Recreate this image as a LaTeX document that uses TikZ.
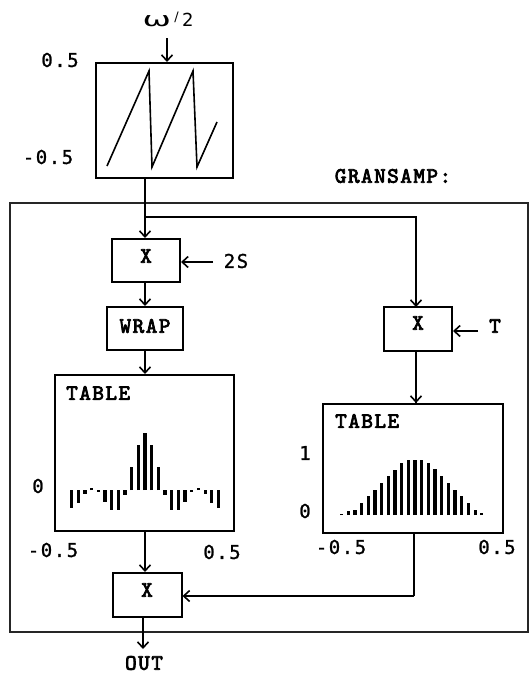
\documentclass[tikz,border=0pt]{standalone}
\usepackage{fontspec}
\newfontfamily\numfont{DejaVu Sans Mono}[FakeBold=1.2, LetterSpace=8]
\newfontfamily\symfont{DejaVu Sans}
\newfontfamily\lbfont{lmmono10-regular.otf}[FakeBold=3.5, LetterSpace=7]
\usetikzlibrary{arrows.meta}
\begin{document}
\begin{tikzpicture}[x=1pt,y=-1pt,
  box/.style={draw, line width=2pt, inner sep=0pt, anchor=center},
  lbl/.style={font=\fontsize{22}{22}\selectfont\lbfont, inner sep=0pt},
  num/.style={font=\fontsize{19}{19}\selectfont\numfont, inner sep=0pt},
  arr/.style={line width=1.6pt, -{Straight Barb[length=6pt,width=11pt,line width=1.6pt]}},
  wire/.style={line width=1.6pt},
  bar/.style={line width=3.2pt}]
\useasboundingbox (0,0) rectangle (530,675);

% outer frame
\draw[line width=1.5pt, draw=black!85] (10,203) rectangle (528,632);
\node[lbl] (gran) at (393,176) {GRANSAMP:};

% sawtooth oscillator
\node[box, minimum width=137pt, minimum height=115pt] (saw) at (164.5,120.5) {};
\draw[line width=1.6pt, line join=miter] (107,166) -- (149,71) -- (152,167) -- (193,71) -- (197,167) -- (217,122);
\node[inner sep=0pt, font=\symfont\fontsize{20}{20}\selectfont] (w) at (168,19) {\scalebox{1.7}[1]{ω}\,\raisebox{5pt}{\fontsize{13}{13}\selectfont/}\,\fontsize{18}{18}\selectfont 2};
\node[num] (p5) at (60,60) {0.5};
\node[num] (m5) at (48,157) {-0.5};
\coordinate (win) at (167,38);
\draw[arr] (win) -- (saw.north -| win);

% left column
\node[box, minimum width=68pt, minimum height=43pt] (lx) at (146,260.5) {};
\node[lbl] at (146,256) {X};
\node[box, minimum width=76pt, minimum height=43pt] (wrap) at (145,328.5) {};
\node[lbl] at (145,326) {WRAP};
\node[box, minimum width=179pt, minimum height=156pt] (lt) at (144,453) {};
\node[lbl, anchor=west] at (66,393) {TABLE};
\node[box, minimum width=69pt, minimum height=44pt] (bx) at (147,595) {};
\node[lbl] at (147,590) {X};

% right column
\node[box, minimum width=68pt, minimum height=44pt] (rx) at (418,329) {};
\node[lbl] at (418,323) {X};
\node[box, minimum width=180pt, minimum height=129pt] (rt) at (413,468.5) {};
\node[lbl, anchor=west] at (335,421) {TABLE};

% side inputs
\node[num] (s2) at (236,261) {2S};
\coordinate (s2e) at (213,262);
\draw[arr] (s2e) -- (lx.east |- s2e);
\node[lbl] (t) at (495,326) {T};
\coordinate (te) at (478,331);
\draw[arr] (te) -- (rx.east |- te);

% axis labels
\node[num] at (38,486) {0};
\node[num] at (53,550) {-0.5};
\node[num] at (222,552) {0.5};
\node[num] at (305,453) {1};
\node[num] at (305,511) {0};
\node[num] at (341,547) {-0.5};
\node[num] at (497,547) {0.5};

% connectors
\coordinate (br) at (145,217);
\draw[wire] (saw.south -| br) -- (br);
\draw[arr] (br) -- (lx.north -| br);
\draw[arr] (br) -| (416,307);
\draw[arr] (lx.south -| br) -- (wrap.north -| br);
\draw[arr] (wrap.south -| br) -- (lt.north -| br);
\draw[arr] (lt.south -| br) -- (bx.north -| br);
\draw[wire] (rx.south -| 416,0) -- (rt.north -| 416,0);
\draw[arr] (416,400) -- (rt.north -| 416,0);
\coordinate (rc) at (414,596);
\draw[wire] (rt.south -| rc) -- (rc);
\draw[arr] (rc) -- (bx.east |- rc);
\node[lbl] (out) at (144,663) {OUT};
\draw[arr] (bx.south -| 143,0) -- (143,649);

% left table bars (windowed sinc)
\foreach \h [count=\k from 0] in {-18,-13,-4,2,-1.5,-12,-20,-20,-5,23,45,57,45,23,-5,-20,-20,-12,-1.5,2,-4,-13,-18}
  \draw[bar] (71.7+6.67*\k,490) -- (71.7+6.67*\k,490-\h);

% right table bars (window)
\foreach \h [count=\k from 0] in {1.5,3.7,5,12,19,25,32,39,45,52,55,55,55,52,46,39,32,25,19,12,5,2}
  \draw[bar] (341.7+6.67*\k,515) -- (341.7+6.67*\k,515-\h);

\end{tikzpicture}
\end{document}
